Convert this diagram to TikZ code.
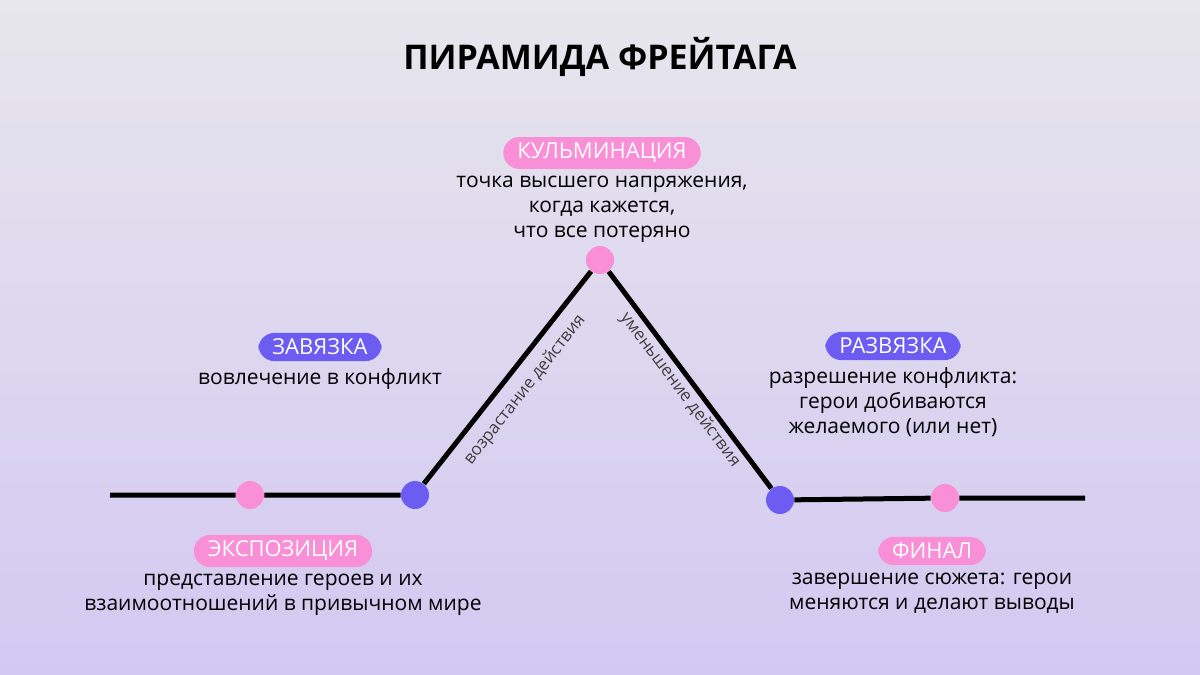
\documentclass[tikz,border=0pt]{standalone}
\usepackage{fontspec}
\setmainfont{Open Sans}
\usetikzlibrary{positioning}
\definecolor{pinkdot}{HTML}{F98FD6}
\definecolor{violetdot}{HTML}{6D5CF2}
\definecolor{bgtop}{HTML}{E7E6EC}
\definecolor{bgbottom}{HTML}{D3C8F2}
\tikzset{
    pill/.style={rounded corners=8pt, text=white, inner xsep=7pt, inner ysep=3pt, font=\fontsize{11}{12}\selectfont},
    desc/.style={align=center, font=\fontsize{10.5}{12.5}\selectfont},
    dot/.style={circle, minimum size=14pt, inner sep=0pt},
}
\begin{document}
\begin{tikzpicture}[x=0.5pt,y=-0.5pt]

    %Hintergrund
    \shade[top color=bgtop, bottom color=bgbottom] (0,0) rectangle (1200,675);
    \useasboundingbox (0,0) rectangle (1200,675);

    %Titel
    \node[font=\fontsize{17}{20}\selectfont\bfseries] (titel) at (600,57) {ПИРАМИДА ФРЕЙТАГА};

    %Linie
    \coordinate (start) at (110,495);
    \coordinate (ende) at (1085,498);
    \node[dot, fill=pinkdot] (expo) at (250,495) {};
    \node[dot, fill=violetdot] (zav) at (415,495) {};
    \node[dot, fill=pinkdot] (kulm) at (600,260) {};
    \node[dot, fill=violetdot] (razv) at (780,500) {};
    \node[dot, fill=pinkdot] (fin) at (945,498) {};
    \draw[line width=2.5pt] (start) -- (expo) -- (zav) -- (kulm) -- (razv) -- (fin) -- (ende);

    %Beschriftung Linie
    \node[rotate=51.8, font=\fontsize{8.5}{10}\selectfont, text=black!75] (steig) at (525,390) {возрастание действия};
    \node[rotate=-53, font=\fontsize{8.5}{10}\selectfont, text=black!75] (fall) at (680,390) {уменьшение действия};

    %Kulmination
    \node[pill, fill=pinkdot] (kulmlab) at (602,153) {КУЛЬМИНАЦИЯ};
    \node[desc, below=0pt of kulmlab] (kulmtxt) {точка высшего напряжения,\\когда кажется,\\что все потеряно};

    %Zavyazka
    \node[pill, fill=violetdot] (zavlab) at (320,347) {ЗАВЯЗКА};
    \node[desc, below=0pt of zavlab] (zavtxt) {вовлечение в конфликт};

    %Razvyazka
    \node[pill, fill=violetdot] (razvlab) at (893,346) {РАЗВЯЗКА};
    \node[desc, below=0pt of razvlab] (razvtxt) {разрешение конфликта:\\герои добиваются\\желаемого (или нет)};

    %Exposition
    \node[pill, fill=pinkdot] (expolab) at (283,551) {ЭКСПОЗИЦИЯ};
    \node[desc, below=0pt of expolab] (expotxt) {представление героев и их\\взаимоотношений в привычном мире};

    %Finale
    \node[pill, fill=pinkdot] (finlab) at (932,551) {ФИНАЛ};
    \node[desc, below=0pt of finlab] (fintxt) {завершение сюжета: герои\\меняются и делают выводы};

\end{tikzpicture}
\end{document}
